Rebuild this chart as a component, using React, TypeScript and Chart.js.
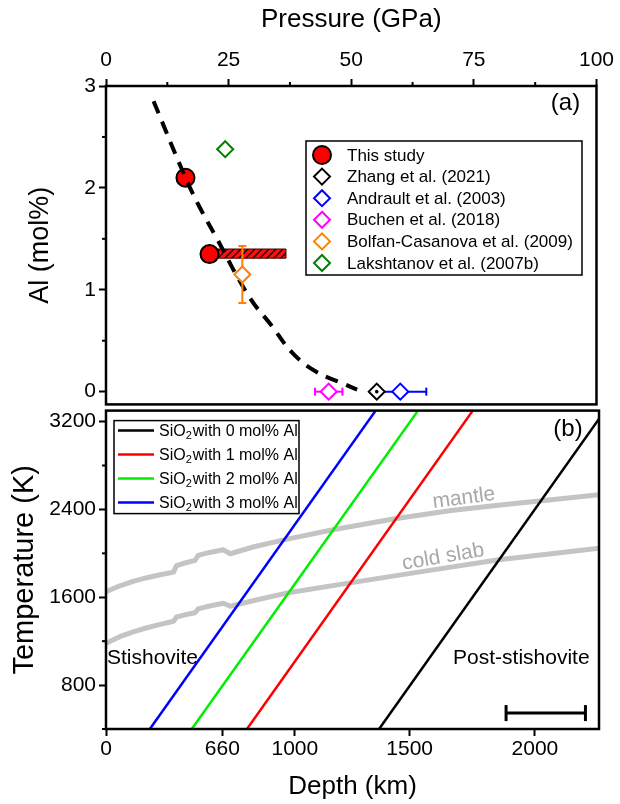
import React, { useEffect, useRef } from "react";
import { Chart, registerables } from "chart.js";

Chart.register(...registerables);

const FONT = "'Liberation Sans', Arial, Helvetica, sans-serif";
Chart.defaults.font.family = FONT;
Chart.defaults.color = "#000";

// ---------- panel (a): Al content against transition pressure ----------
const PRESSURE_TICKS = [0, 25, 50, 75, 100];
const PRESSURE_MINOR = [12.5, 37.5, 62.5, 87.5];
const AL_TICKS = [0, 1, 2, 3];
const AL_MINOR = [0.5, 1.5, 2.5];

const THIS_STUDY_P = [16.2, 21.1];
const THIS_STUDY_AL = [2.1, 1.35];
const THIS_STUDY_RANGE_P = [21.1, 36.7];
const THIS_STUDY_RANGE_AL = [1.31, 1.4];

const ZHANG_P = [55.2];
const ZHANG_AL = [0];
const ANDRAULT_P = [60.0];
const ANDRAULT_AL = [0];
const ANDRAULT_P_ERR = [5.3];
const BUCHEN_P = [45.4];
const BUCHEN_AL = [0];
const BUCHEN_P_ERR = [2.8];
const BOLFAN_P = [27.8];
const BOLFAN_AL = [1.15];
const BOLFAN_AL_ERR = [0.28];
const LAKSHTANOV_P = [24.3];
const LAKSHTANOV_AL = [2.38];

const TREND_P = [9.7, 16.2, 19.1, 22.4, 29.2, 33.9, 38.0, 42.7, 48.8, 51.2];
const TREND_AL = [2.85, 2.1, 1.81, 1.52, 0.93, 0.64, 0.38, 0.2, 0.07, 0.02];

// ---------- panel (b): phase boundaries and geotherms ----------
const DEPTH_TICKS = [0, 660, 1000, 1500, 2000];
const DEPTH_TICK_P = [0, 23.6, 38.3, 61.6, 87.0];
const TEMP_TICKS = [800, 1600, 2400, 3200];
const TEMP_MINOR = [400, 1200, 2000, 2800];

const BOUNDARY_T = [400, 3300];
const AL0_P = [55.4, 101.2];
const AL1_P = [28.6, 74.4];
const AL2_P = [17.4, 63.3];
const AL3_P = [8.9, 54.7];

const MANTLE_P = [0, 1.5, 2.8, 5.5, 8.3, 11, 13.7, 14.3, 16, 18.05, 18.7, 21, 23.8, 25.2, 30, 36.3, 46, 58.6, 70, 80, 88.4, 100];
const MANTLE_T = [1650, 1680, 1704, 1745, 1778, 1805, 1829, 1888, 1912, 1936, 1981, 2008, 2032, 1996, 2060, 2125, 2215, 2315, 2390, 2440, 2479, 2533];
const SLAB_P = [0, 1.5, 2.8, 5.5, 8.3, 11, 13.7, 14.3, 16, 18.05, 18.7, 21, 23.8, 25.2, 30, 37.3, 49.8, 65, 79.7, 100];
const SLAB_T = [1181, 1212, 1241, 1285, 1322, 1353, 1381, 1420, 1440, 1459, 1494, 1520, 1545, 1518, 1570, 1644, 1733, 1840, 1942, 2047];

const BOUNDARY_ERR_P = [89.2];
const BOUNDARY_ERR_T = [545];
const BOUNDARY_ERR = [8.05];

type XY = { x: number; y: number };
const pts = (xs: number[], ys: number[]): XY[] => xs.map((x, i) => ({ x, y: ys[i] }));

function hatchPattern(): CanvasPattern | string {
  const c = document.createElement("canvas");
  c.width = 7;
  c.height = 7;
  const g = c.getContext("2d");
  if (!g) return "#ff0000";
  g.fillStyle = "#ff1010";
  g.fillRect(0, 0, 7, 7);
  g.strokeStyle = "#1a0000";
  g.lineWidth = 1.3;
  g.beginPath();
  g.moveTo(-1, 8);
  g.lineTo(8, -1);
  g.moveTo(-1, 1);
  g.lineTo(1, -1);
  g.moveTo(6, 8);
  g.lineTo(8, 6);
  g.stroke();
  return g.createPattern(c, "repeat") || "#ff0000";
}

const tickGrid = {
  display: true,
  drawOnChartArea: false,
  drawTicks: true,
  tickLength: 7,
  tickWidth: 2,
  tickColor: "#000",
};

const frame = {
  id: "frame",
  afterDatasetsDraw(chart: any) {
    const { ctx, chartArea: a } = chart;
    ctx.save();
    ctx.strokeStyle = "#000";
    ctx.lineWidth = 2.5;
    ctx.strokeRect(a.left, a.top, a.right - a.left, a.bottom - a.top);
    ctx.restore();
  },
};

const minorTicks = (spec: Record<string, number[]>) => ({
  id: "minorTicks",
  afterDraw(chart: any) {
    const { ctx, chartArea: a } = chart;
    ctx.save();
    ctx.strokeStyle = "#000";
    ctx.lineWidth = 2;
    for (const id of Object.keys(spec)) {
      const s = chart.scales[id];
      for (const v of spec[id]) {
        const p = s.getPixelForValue(v);
        ctx.beginPath();
        if (s.options.position === "top") {
          ctx.moveTo(p, a.top);
          ctx.lineTo(p, a.top - 4);
        } else if (s.options.position === "bottom") {
          ctx.moveTo(p, a.bottom);
          ctx.lineTo(p, a.bottom + 4);
        } else {
          ctx.moveTo(a.left, p);
          ctx.lineTo(a.left - 4, p);
        }
        ctx.stroke();
      }
    }
    ctx.restore();
  },
});

const errorBars = {
  id: "errorBars",
  beforeDatasetDraw(chart: any, args: any) {
    const ds: any = chart.data.datasets[args.index];
    if (!ds.errX && !ds.errY) return;
    const meta = chart.getDatasetMeta(args.index);
    const xs = chart.scales[meta.xAxisID];
    const ys = chart.scales[meta.yAxisID];
    const ctx = chart.ctx;
    const cap = ds.errCap ?? 4;
    ctx.save();
    ctx.strokeStyle = ds.errColor;
    ctx.lineWidth = ds.errWidth ?? 2;
    const seg = (x1: number, y1: number, x2: number, y2: number) => {
      ctx.beginPath();
      ctx.moveTo(x1, y1);
      ctx.lineTo(x2, y2);
      ctx.stroke();
    };
    ds.data.forEach((d: XY, i: number) => {
      const px = xs.getPixelForValue(d.x);
      const py = ys.getPixelForValue(d.y);
      if (ds.errX) {
        const l = xs.getPixelForValue(d.x - ds.errX[i]);
        const r = xs.getPixelForValue(d.x + ds.errX[i]);
        seg(l, py, r, py);
        seg(l, py - cap, l, py + cap);
        seg(r, py - cap, r, py + cap);
      }
      if (ds.errY) {
        const t = ys.getPixelForValue(d.y + ds.errY[i]);
        const b = ys.getPixelForValue(d.y - ds.errY[i]);
        seg(px, t, px, b);
        seg(px - cap, t, px + cap, t);
        seg(px - cap, b, px + cap, b);
      }
    });
    ctx.restore();
  },
};

type LegendEntry = { label: string; shape: "circle" | "diamond"; color: string };
const LEGEND_A: LegendEntry[] = [
  { label: "This study", shape: "circle", color: "#ff0000" },
  { label: "Zhang et al. (2021)", shape: "diamond", color: "#000000" },
  { label: "Andrault et al. (2003)", shape: "diamond", color: "#0000ff" },
  { label: "Buchen et al. (2018)", shape: "diamond", color: "#ff00ff" },
  { label: "Bolfan-Casanova et al. (2009)", shape: "diamond", color: "#ff8000" },
  { label: "Lakshtanov et al. (2007b)", shape: "diamond", color: "#008000" },
];

const legendA = {
  id: "legendA",
  afterDraw(chart: any) {
    const { ctx, chartArea: a } = chart;
    const left = a.left + 200;
    const top = a.top + 55;
    ctx.save();
    ctx.fillStyle = "#fff";
    ctx.fillRect(left, top, 276, 134);
    ctx.strokeStyle = "#000";
    ctx.lineWidth = 1.5;
    ctx.strokeRect(left, top, 276, 134);
    ctx.font = `17px ${FONT}`;
    ctx.textBaseline = "middle";
    LEGEND_A.forEach((e, i) => {
      const y = top + 14 + i * 21.6;
      const x = left + 16;
      ctx.beginPath();
      if (e.shape === "circle") {
        ctx.arc(x, y, 9, 0, Math.PI * 2);
        ctx.fillStyle = e.color;
        ctx.fill();
        ctx.lineWidth = 2;
        ctx.strokeStyle = "#000";
        ctx.stroke();
      } else {
        ctx.moveTo(x, y - 8);
        ctx.lineTo(x + 8, y);
        ctx.lineTo(x, y + 8);
        ctx.lineTo(x - 8, y);
        ctx.closePath();
        ctx.fillStyle = "#fff";
        ctx.fill();
        ctx.lineWidth = 2;
        ctx.strokeStyle = e.color;
        ctx.stroke();
      }
      ctx.fillStyle = "#000";
      ctx.textAlign = "left";
      ctx.fillText(e.label, left + 41, y + 1);
    });
    ctx.font = `24px ${FONT}`;
    ctx.textAlign = "center";
    ctx.fillText("(a)", a.right - 31, a.top + 17);
    ctx.restore();
  },
};

const LEGEND_B = [
  { al: "0", color: "#000000" },
  { al: "1", color: "#ff0000" },
  { al: "2", color: "#00ee00" },
  { al: "3", color: "#0000ff" },
];

type Note = { text: string; p: number; t: number; angle: number; color: string; size: number; align: CanvasTextAlign };
const NOTES_B: Note[] = [
  { text: "mantle", p: 72.6, t: 2503, angle: -7.4, color: "#a8a8a8", size: 21, align: "center" },
  { text: "cold slab", p: 68.4, t: 1966, angle: -9.8, color: "#a8a8a8", size: 21, align: "center" },
  { text: "Stishovite", p: 0.2, t: 1044, angle: 0, color: "#000", size: 21, align: "left" },
  { text: "Post-stishovite", p: 70.4, t: 1044, angle: 0, color: "#000", size: 21, align: "left" },
];

const legendB = {
  id: "legendB",
  afterDraw(chart: any) {
    const { ctx, chartArea: a } = chart;
    const left = a.left + 8;
    const top = a.top + 10;
    ctx.save();
    ctx.fillStyle = "#fff";
    ctx.fillRect(left, top, 185, 93);
    ctx.strokeStyle = "#000";
    ctx.lineWidth = 1.5;
    ctx.strokeRect(left, top, 185, 93);
    ctx.textBaseline = "middle";
    ctx.textAlign = "left";
    LEGEND_B.forEach((e, i) => {
      const y = top + 10 + i * 24;
      ctx.strokeStyle = e.color;
      ctx.lineWidth = 2.5;
      ctx.beginPath();
      ctx.moveTo(left + 4, y);
      ctx.lineTo(left + 40, y);
      ctx.stroke();
      ctx.fillStyle = "#000";
      let x = left + 45;
      ctx.font = `16px ${FONT}`;
      ctx.fillText("SiO", x, y + 1);
      x += ctx.measureText("SiO").width;
      ctx.font = `11px ${FONT}`;
      ctx.fillText("2", x, y + 5);
      x += ctx.measureText("2").width + 1;
      ctx.font = `16px ${FONT}`;
      ctx.fillText(`with ${e.al} mol% Al`, x, y + 1);
    });
    const xs = chart.scales.x;
    const ys = chart.scales.y;
    NOTES_B.forEach((n) => {
      ctx.save();
      ctx.translate(xs.getPixelForValue(n.p), ys.getPixelForValue(n.t));
      ctx.rotate((n.angle * Math.PI) / 180);
      ctx.font = `${n.size}px ${FONT}`;
      ctx.fillStyle = n.color;
      ctx.textAlign = n.align;
      ctx.fillText(n.text, 0, 0);
      ctx.restore();
    });
    ctx.fillStyle = "#000";
    ctx.font = `24px ${FONT}`;
    ctx.textAlign = "center";
    ctx.fillText("(b)", a.right - 31, a.top + 19);
    ctx.restore();
  },
};

const diamond = (color: string) => ({
  showLine: false,
  pointStyle: "rectRot",
  pointRadius: 8,
  pointBorderWidth: 2,
  pointBorderColor: color,
  pointBackgroundColor: "#fff",
  errColor: color,
  errWidth: 2,
  errCap: 4,
});

export default function App() {
  const topRef = useRef<HTMLCanvasElement>(null);
  const botRef = useRef<HTMLCanvasElement>(null);

  useEffect(() => {
    if (!topRef.current || !botRef.current) return;

    const rangeBox: XY[] = [
      { x: THIS_STUDY_RANGE_P[0], y: THIS_STUDY_RANGE_AL[0] },
      { x: THIS_STUDY_RANGE_P[1], y: THIS_STUDY_RANGE_AL[0] },
      { x: THIS_STUDY_RANGE_P[1], y: THIS_STUDY_RANGE_AL[1] },
      { x: THIS_STUDY_RANGE_P[0], y: THIS_STUDY_RANGE_AL[1] },
      { x: THIS_STUDY_RANGE_P[0], y: THIS_STUDY_RANGE_AL[0] },
    ];

    const chartA = new Chart(topRef.current, {
      type: "scatter",
      data: {
        datasets: [
          {
            data: pts(ZHANG_P, ZHANG_AL),
            pointRadius: 1.8,
            pointBackgroundColor: "#000",
            pointBorderWidth: 0,
            showLine: false,
          } as any,
          { data: pts(ZHANG_P, ZHANG_AL), ...diamond("#000000") },
          { data: pts(ANDRAULT_P, ANDRAULT_AL), ...diamond("#0000ff"), errX: ANDRAULT_P_ERR },
          { data: pts(BUCHEN_P, BUCHEN_AL), ...diamond("#ff00ff"), errX: BUCHEN_P_ERR },
          { data: pts(BOLFAN_P, BOLFAN_AL), ...diamond("#ff8000"), errY: BOLFAN_AL_ERR },
          { data: pts(LAKSHTANOV_P, LAKSHTANOV_AL), ...diamond("#008000") },
          {
            data: pts(TREND_P, TREND_AL),
            showLine: true,
            borderColor: "#000",
            borderWidth: 4,
            borderDash: [13, 9],
            pointRadius: 0,
            tension: 0.4,
          },
          {
            data: pts(THIS_STUDY_P, THIS_STUDY_AL),
            showLine: false,
            pointStyle: "circle",
            pointRadius: 9,
            pointBorderWidth: 2,
            pointBorderColor: "#000",
            pointBackgroundColor: "#ff0000",
          },
          {
            data: rangeBox,
            showLine: true,
            fill: "shape",
            backgroundColor: hatchPattern(),
            borderColor: "#400000",
            borderWidth: 1,
            pointRadius: 0,
          },
        ] as any,
      },
      options: {
        responsive: false,
        animation: false,
        events: [],
        layout: { padding: { left: 0, right: 21, top: 0, bottom: 15 } },
        plugins: { legend: { display: false }, tooltip: { enabled: false } },
        scales: {
          x: {
            type: "linear",
            position: "top",
            min: 0,
            max: 100,
            afterBuildTicks: (s: any) => {
              s.ticks = PRESSURE_TICKS.map((v) => ({ value: v }));
            },
            afterFit: (s: any) => {
              s.height = 86;
            },
            ticks: { font: { size: 21 }, padding: 6, maxRotation: 0, autoSkip: false, callback: (v: number) => String(v) },
            grid: tickGrid,
            border: { display: false },
            title: { display: true, text: "Pressure (GPa)", font: { size: 26 }, padding: { top: 4, bottom: 0 } },
          },
          y: {
            type: "linear",
            position: "left",
            min: -0.125,
            max: 3,
            afterBuildTicks: (s: any) => {
              s.ticks = AL_TICKS.map((v) => ({ value: v }));
            },
            afterFit: (s: any) => {
              s.width = 106;
            },
            ticks: { font: { size: 21 }, padding: 3, autoSkip: false, callback: (v: number) => String(v) },
            grid: tickGrid,
            border: { display: false },
            title: { display: true, text: "Al (mol%)", font: { size: 27 }, padding: { top: 24, bottom: 0 } },
          },
        },
      } as any,
      plugins: [errorBars, frame, minorTicks({ x: PRESSURE_MINOR, y: AL_MINOR }), legendA],
    });

    const line = (ps: number[], color: string) => ({
      data: pts(ps, BOUNDARY_T),
      showLine: true,
      borderColor: color,
      borderWidth: 2.5,
      pointRadius: 0,
    });
    const geotherm = (ps: number[], ts: number[]) => ({
      data: pts(ps, ts),
      showLine: true,
      borderColor: "#c4c4c4",
      borderWidth: 5,
      borderJoinStyle: "round",
      pointRadius: 0,
      tension: 0,
    });

    const chartB = new Chart(botRef.current, {
      type: "scatter",
      data: {
        datasets: [
          {
            data: pts(BOUNDARY_ERR_P, BOUNDARY_ERR_T),
            showLine: false,
            pointRadius: 0,
            errX: BOUNDARY_ERR,
            errColor: "#000",
            errWidth: 3,
            errCap: 8,
          },
          line(AL0_P, "#000000"),
          line(AL1_P, "#ff0000"),
          line(AL2_P, "#00ee00"),
          line(AL3_P, "#0000ff"),
          geotherm(MANTLE_P, MANTLE_T),
          geotherm(SLAB_P, SLAB_T),
        ] as any,
      },
      options: {
        responsive: false,
        animation: false,
        events: [],
        layout: { padding: { left: 0, right: 21, top: 10, bottom: 0 } },
        plugins: { legend: { display: false }, tooltip: { enabled: false } },
        scales: {
          x: {
            type: "linear",
            position: "bottom",
            min: 0,
            max: 100,
            afterBuildTicks: (s: any) => {
              s.ticks = DEPTH_TICK_P.map((v) => ({ value: v }));
            },
            afterFit: (s: any) => {
              s.height = 75;
            },
            ticks: {
              font: { size: 21 },
              padding: 1,
              maxRotation: 0,
              autoSkip: false,
              callback: (v: number) => {
                const i = DEPTH_TICK_P.indexOf(v);
                return i >= 0 ? String(DEPTH_TICKS[i]) : "";
              },
            },
            grid: tickGrid,
            border: { display: false },
            title: { display: true, text: "Depth (km)", font: { size: 26 }, padding: { top: 0, bottom: 2 } },
          },
          y: {
            type: "linear",
            position: "left",
            min: 400,
            max: 3300,
            afterBuildTicks: (s: any) => {
              s.ticks = TEMP_TICKS.map((v) => ({ value: v }));
            },
            afterFit: (s: any) => {
              s.width = 106;
            },
            ticks: { font: { size: 21 }, padding: 3, autoSkip: false, callback: (v: number) => String(v) },
            grid: tickGrid,
            border: { display: false },
            title: { display: true, text: "Temperature (K)", font: { size: 29 }, padding: { top: 8, bottom: 0 } },
          },
        },
      } as any,
      plugins: [errorBars, frame, minorTicks({ y: TEMP_MINOR }), legendB],
    });

    return () => {
      chartA.destroy();
      chartB.destroy();
    };
  }, []);

  return (
    <div style={{ position: "absolute", left: 0, top: 0, width: 620, height: 804, background: "#fff" }}>
      <canvas ref={topRef} width={620} height={420} style={{ position: "absolute", left: 0, top: 0 }} />
      <canvas ref={botRef} width={620} height={409} style={{ position: "absolute", left: 0, top: 395 }} />
    </div>
  );
}
